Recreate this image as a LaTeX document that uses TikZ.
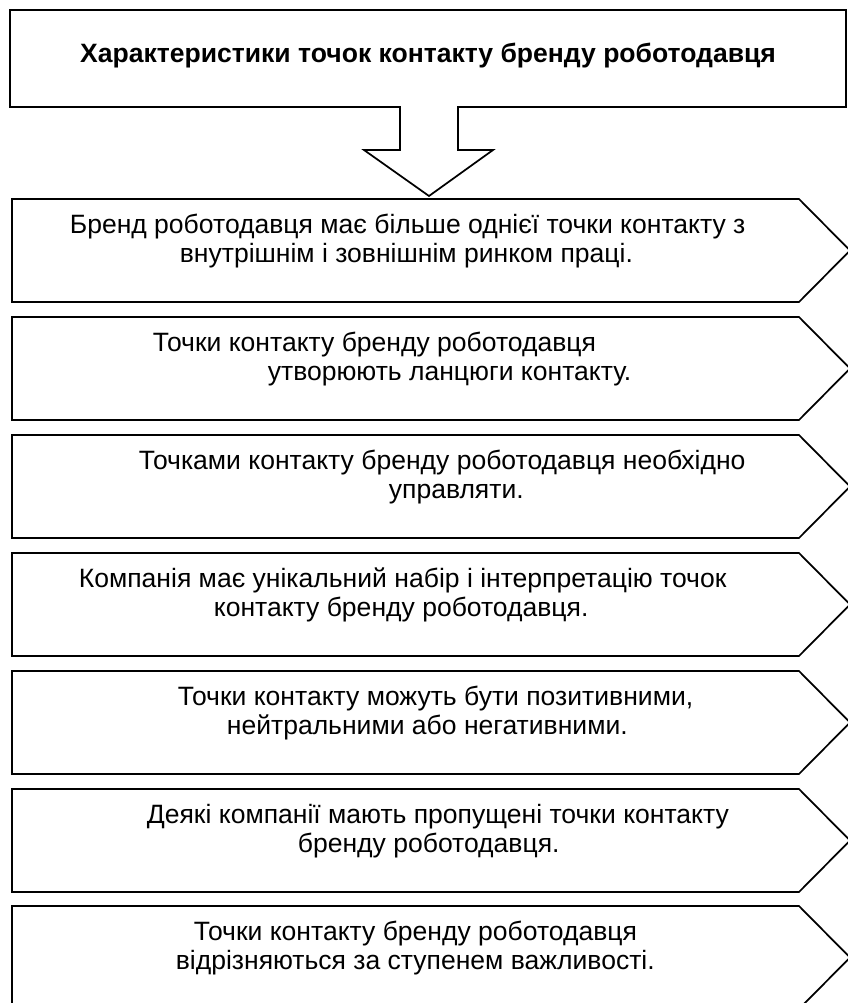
\documentclass[tikz,border=0pt]{standalone}
\usepackage{fontspec}
\setmainfont{Liberation Sans}
\usepackage{tikz}

\begin{document}
\begin{tikzpicture}[x=0.75pt,y=-0.75pt,line width=1.3pt,font=\fontsize{19.9}{21.75}\selectfont]
  \useasboundingbox (0,0) rectangle (848,1003);
  \clip (0,0) rectangle (848,1003);
  \draw (10,10) -- (846,10) -- (846,107) -- (458,107) -- (458,150) -- (493,150) -- (429,196)
    -- (364,150) -- (400,150) -- (400,107) -- (10,107) -- cycle;
  \node[anchor=base,font=\fontsize{19.9}{21.75}\selectfont\bfseries] (title) at (428,62)
    {Характеристики точок контакту бренду роботодавця};
  \foreach \t in {199,317,435,553,671,789,906}
    \draw (12,\t) -- (799,\t) -- (850,\t+51.5) -- (799,\t+103) -- (12,\t+103) -- cycle;
  \node[anchor=base west,align=left,inner sep=0pt] (c1) at (69,262)
    {Бренд роботодавця має більше однієї точки контакту з\\\hspace*{82.5pt}внутрішнім і зовнішнім ринком праці.};
  \node[anchor=base west,align=left,inner sep=0pt] (c2) at (152,380)
    {Точки контакту бренду роботодавця\\\hspace*{86.25pt}утворюють ланцюги контакту.};
  \node[anchor=base west,align=left,inner sep=0pt] (c3) at (138,498)
    {Точками контакту бренду роботодавця необхідно\\\hspace*{187.5pt}управляти.};
  \node[anchor=base west,align=left,inner sep=0pt] (c4) at (78,616)
    {Компанія має унікальний набір і інтерпретацію точок\\\hspace*{101.25pt}контакту бренду роботодавця.};
  \node[anchor=base west,align=left,inner sep=0pt] (c5) at (177,734)
    {Точки контакту можуть бути позитивними,\\\hspace*{36.75pt}нейтральними або негативними.};
  \node[anchor=base west,align=left,inner sep=0pt] (c6) at (146,852)
    {Деякі компанії мають пропущені точки контакту\\\hspace*{113.25pt}бренду роботодавця.};
  \node[anchor=base west,align=left,inner sep=0pt] (c7) at (175,969)
    {\hspace*{13.5pt}Точки контакту бренду роботодавця\\відрізняються за ступенем важливості.};
\end{tikzpicture}
\end{document}
